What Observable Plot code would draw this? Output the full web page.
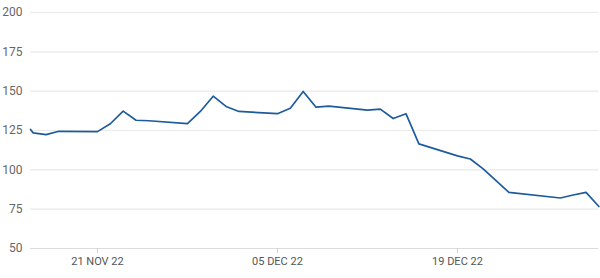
<!DOCTYPE html>
<html>
<head>
<meta charset="utf-8">
<script src="https://cdn.jsdelivr.net/npm/d3@7"></script>
<script src="https://cdn.jsdelivr.net/npm/@observablehq/plot@0.6"></script>
<style>
  html, body { margin: 0; padding: 0; background: #fff; }
  #chart svg { display: block; }
</style>
</head>
<body>
<div id="chart"></div>
<script>
const dates = [
  "2022-11-15T19:00", "2022-11-16", "2022-11-17", "2022-11-18",
  "2022-11-21", "2022-11-22", "2022-11-23", "2022-11-24", "2022-11-25",
  "2022-11-28", "2022-11-29", "2022-11-30", "2022-12-01", "2022-12-02",
  "2022-12-05", "2022-12-06", "2022-12-07", "2022-12-08", "2022-12-09",
  "2022-12-12", "2022-12-13", "2022-12-14", "2022-12-15", "2022-12-16",
  "2022-12-19", "2022-12-20", "2022-12-21", "2022-12-22", "2022-12-23",
  "2022-12-27", "2022-12-28", "2022-12-29", "2022-12-30"
];
const values = [
  125.7, 123.5, 122.4, 124.5,
  124.3, 129.3, 137.3, 131.5, 131.2,
  129.4, 137.1, 146.8, 140.3, 137.1,
  135.7, 139.2, 149.8, 139.8, 140.5,
  137.9, 138.6, 132.6, 135.6, 116.5,
  108.9, 106.9, 100.6, 93.1, 85.7,
  82.1, 84.0, 85.7, 76.7
];
const yTicks = [50, 75, 100, 125, 150, 175, 200];
const xTicks = ["2022-11-21", "2022-12-05", "2022-12-19"];
const xTickLabels = ["21 NOV 22", "05 DEC 22", "19 DEC 22"];

const parse = s => new Date(s.length > 10 ? s : s + "T00:00");
const data = dates.map((d, i) => ({date: parse(d), value: values[i]}));
const tickDates = xTicks.map(parse);
const labelFor = new Map(tickDates.map((d, i) => [+d, xTickLabels[i]]));

const chart = Plot.plot({
  width: 600,
  height: 278,
  marginTop: 12,
  marginBottom: 30,
  marginLeft: 30,
  marginRight: 1.6,
  style: {fontFamily: "Roboto, sans-serif", fontSize: "12px", color: "#555", background: "#fff"},
  x: {type: "time", domain: [parse(dates[0]), parse(dates[dates.length - 1])]},
  y: {domain: [50, 200]},
  marks: [
    Plot.ruleY(yTicks.filter(v => v !== 50), {stroke: "#e9e9e9", strokeWidth: 1.2}),
    Plot.ruleY([50], {stroke: "#dcdcdc", strokeWidth: 1.2}),
    Plot.axisY({ticks: yTicks, tickSize: 0, tickPadding: 8, label: null, fill: "#666", fontSize: 12}),
    Plot.axisX({ticks: tickDates, tickSize: 5, tickPadding: 3.5, label: null, stroke: "#cfcfcf",
      tickFormat: d => labelFor.get(+d), fill: "#555", fontSize: 11}),
    Plot.lineY(data, {x: "date", y: "value", stroke: "#1d5c9c", strokeWidth: 1.7})
  ]
});
document.getElementById("chart").append(chart);
</script>
</body>
</html>
